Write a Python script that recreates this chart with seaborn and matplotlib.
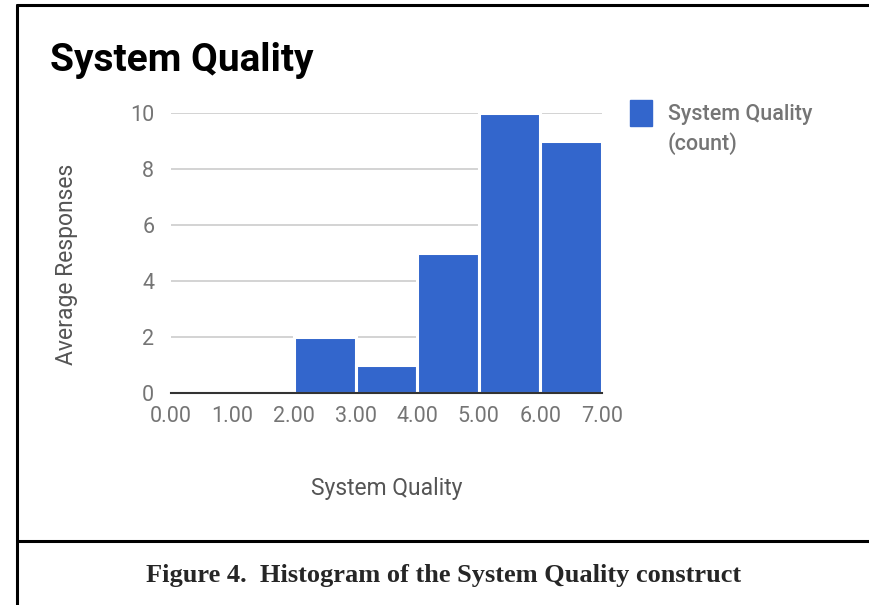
import numpy as np
import pandas as pd
import matplotlib.pyplot as plt
import seaborn as sns
from matplotlib.lines import Line2D
from matplotlib.patches import Patch

# bins of the System Quality score and their counts
bin_edges = [0, 1, 2, 3, 4, 5, 6, 7]
bin_mids = [0.5, 1.5, 2.5, 3.5, 4.5, 5.5, 6.5]
counts = [0, 0, 2, 1, 5, 10, 9]
x_ticks = [0, 1, 2, 3, 4, 5, 6, 7]
x_ticklabels = ["0.00", "1.00", "2.00", "3.00", "4.00", "5.00", "6.00", "7.00"]
y_ticks = [0, 2, 4, 6, 8, 10]

BLUE = "#3366cc"
GREY = "#757575"

sns.set_theme(style="white")
plt.rcParams["font.family"] = ["Roboto", "DejaVu Sans"]

df = pd.DataFrame({"score": bin_mids, "count": counts})

fig = plt.figure(figsize=(8.69, 6.05), dpi=100)
ax = fig.add_axes([0.1968, 0.3504, 0.4959, 0.4628])

sns.histplot(data=df, x="score", weights="count", bins=bin_edges,
             color=BLUE, alpha=1, edgecolor="white", linewidth=2.2, ax=ax, zorder=3)

ax.set_xlim(0, 7)
ax.set_ylim(0, 10)
ax.set_xticks(x_ticks)
ax.set_xticklabels(x_ticklabels)
ax.set_yticks(y_ticks)
ax.tick_params(axis="both", length=0, labelsize=15.5, labelcolor=GREY)
ax.tick_params(axis="y", pad=12)
ax.tick_params(axis="x", pad=9)
ax.grid(axis="y", color="#cccccc", linewidth=1.2, zorder=0)
ax.set_axisbelow(True)
for s in ["top", "right", "left"]:
    ax.spines[s].set_visible(False)
ax.spines["bottom"].set_color("#333333")
ax.spines["bottom"].set_linewidth(1.5)
ax.spines["bottom"].set_zorder(4)

ax.set_xlabel("System Quality", fontsize=16.5, color="#555555", labelpad=36)
ax.set_ylabel("Average Responses", fontsize=16.5, color="#555555", labelpad=36)
ax.yaxis.set_label_coords(-0.215, 0.46)

fig.text(0.058, 0.9, "System Quality", fontsize=28, fontweight="bold", color="black",
         va="center", ha="left")

leg = fig.legend(handles=[Patch(facecolor=BLUE, edgecolor=BLUE)],
                 labels=["System Quality"],
                 loc="center left", bbox_to_anchor=(0.725, 0.813), frameon=False,
                 fontsize=15.5, handlelength=1.0, handleheight=1.45,
                 handletextpad=0.75, borderpad=0, borderaxespad=0)
for t in leg.get_texts():
    t.set_color(GREY)
    t.set_fontweight("medium")
fig.text(0.768, 0.763, "(count)", fontsize=15.5, color=GREY, fontweight="medium",
         ha="left", va="center")

# figure border and caption box
border = dict(color="black", linewidth=2.2, transform=fig.transFigure)
fig.add_artist(Line2D([0.02, 0.02], [0, 0.992], **border))
fig.add_artist(Line2D([0.02, 1.0], [0.992, 0.992], **border))
fig.add_artist(Line2D([0.02, 1.0], [0.106, 0.106], **border))

fig.text(0.51, 0.048, "Figure 4.  Histogram of the System Quality construct",
         fontsize=19, fontweight="bold", family="Liberation Serif",
         ha="center", va="center")

fig.savefig("out.png", dpi=100)
